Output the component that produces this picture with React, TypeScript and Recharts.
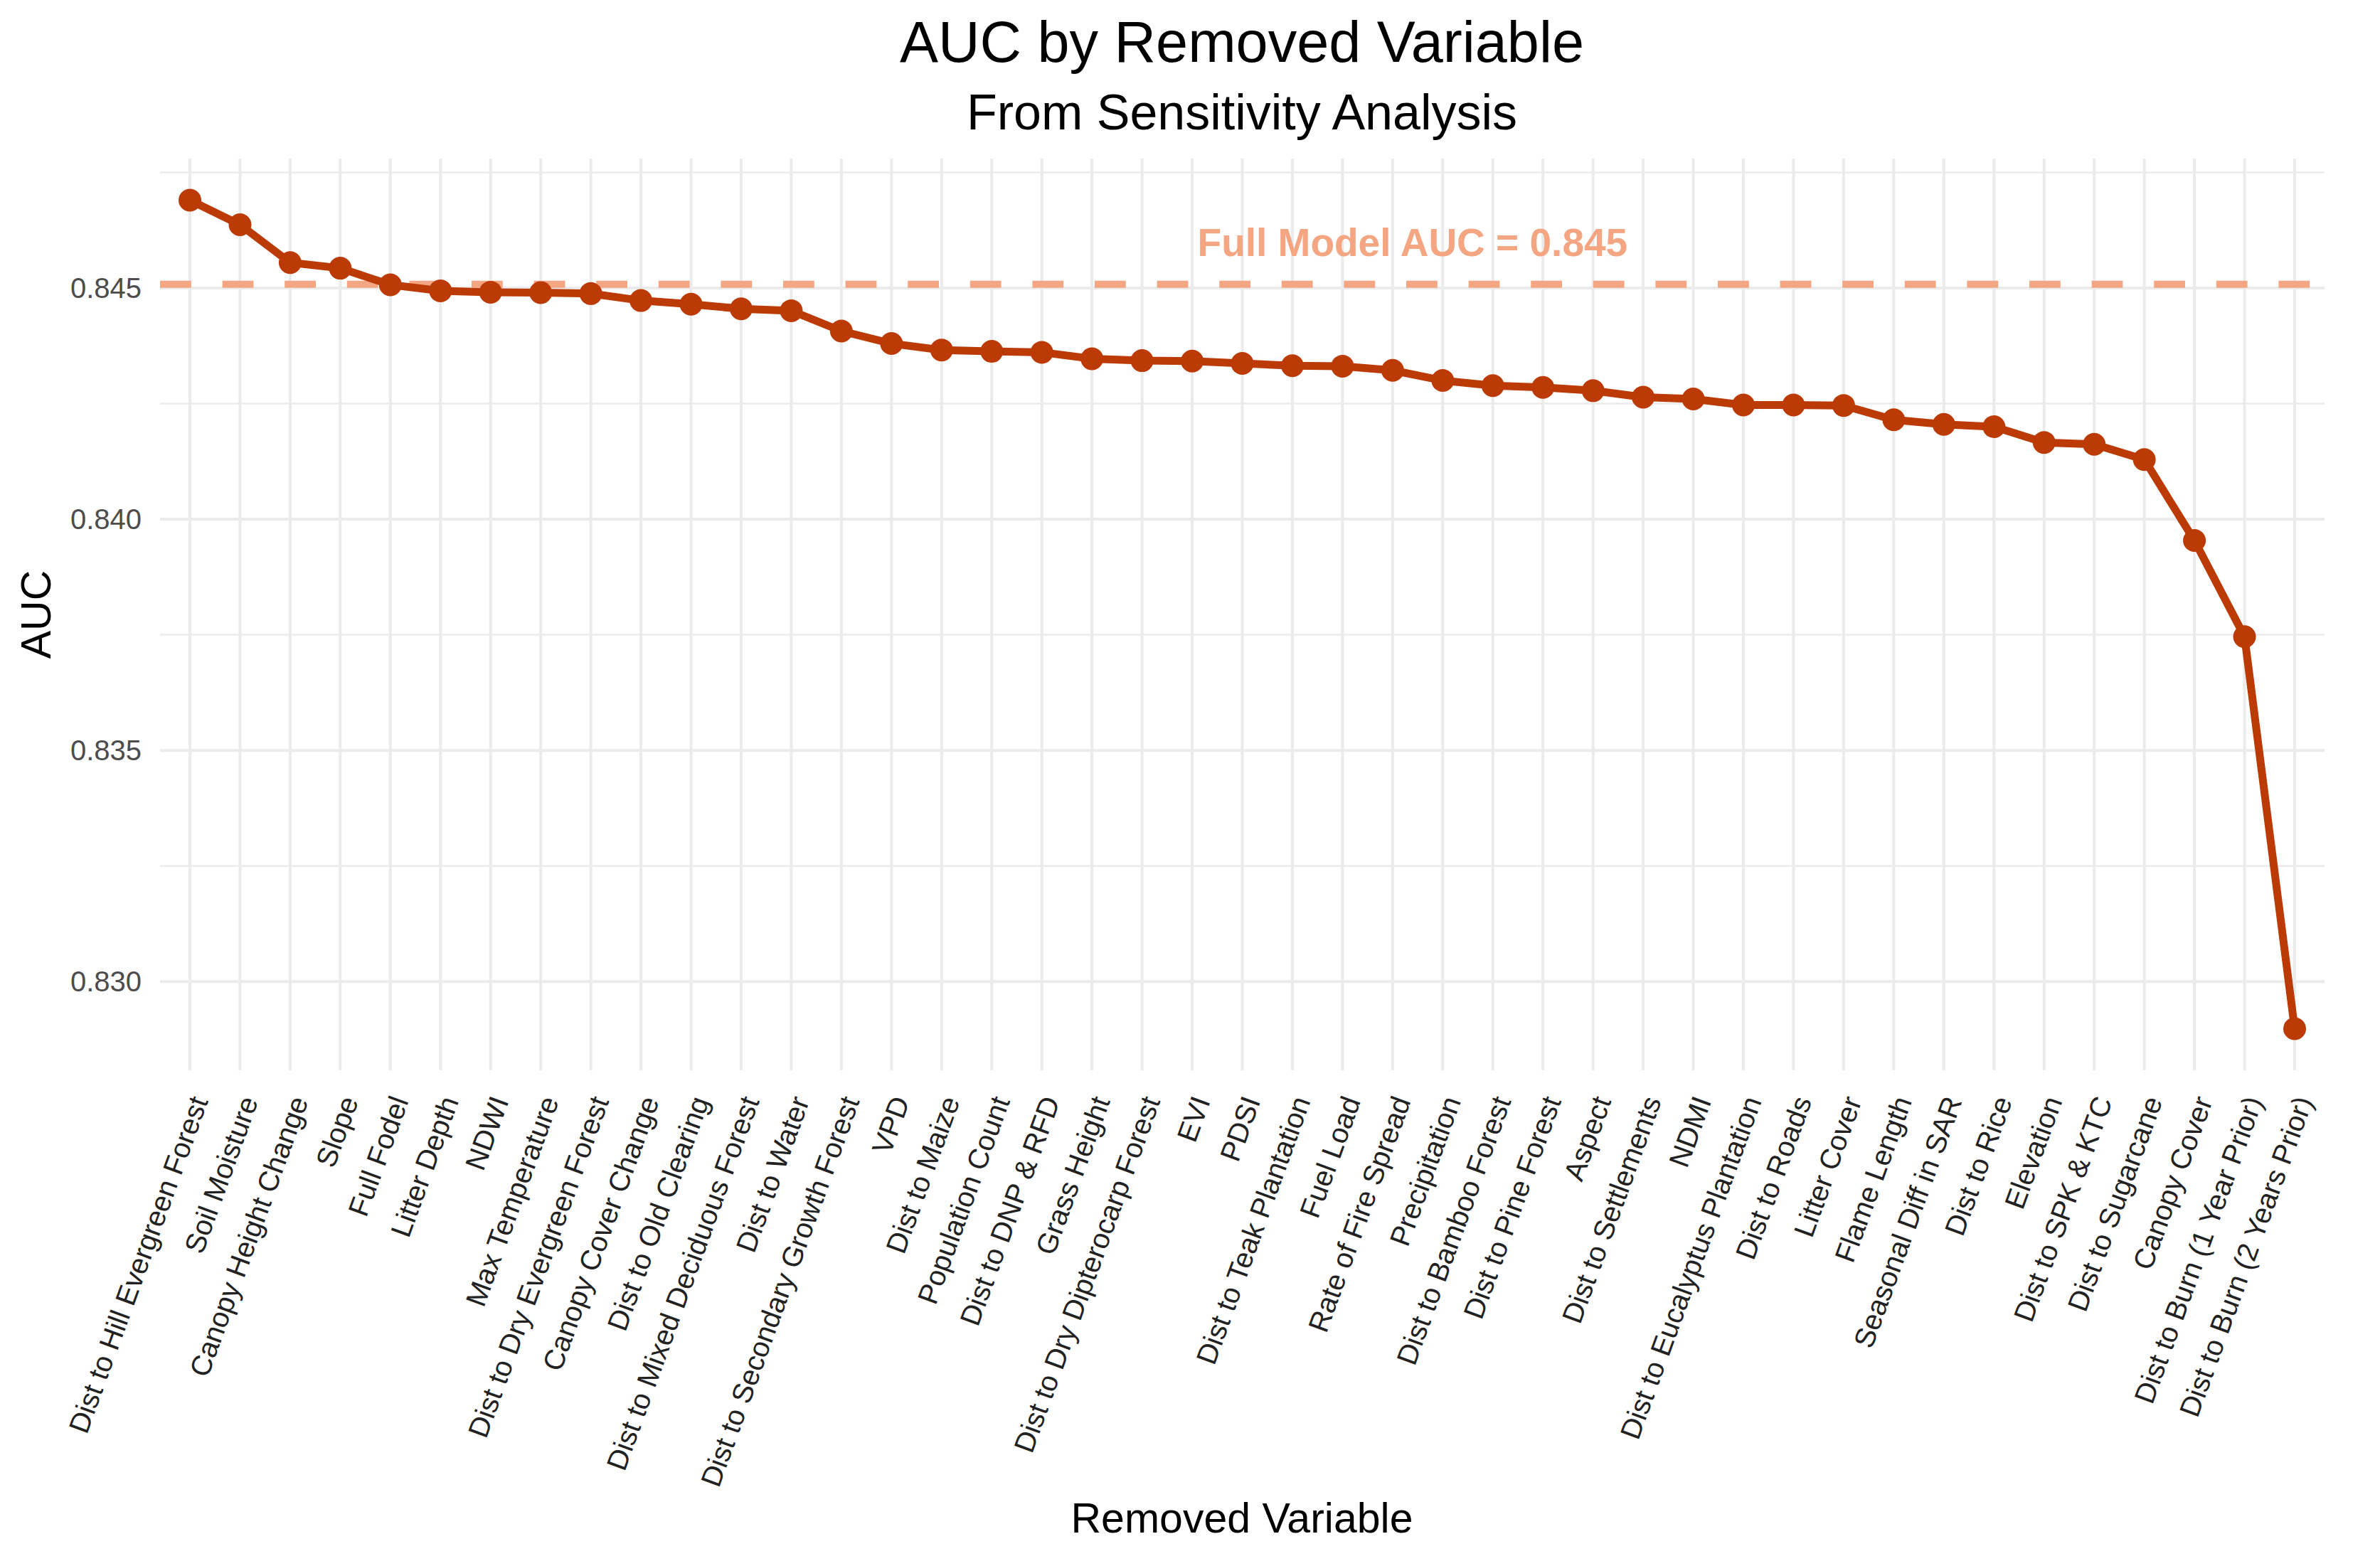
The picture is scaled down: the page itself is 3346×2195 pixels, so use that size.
import React from "react";
import { LineChart, Line, XAxis, YAxis, CartesianGrid, ReferenceLine, ReferenceDot } from "recharts";

// removed variable, ordered as on the x axis
const variables = [
  "Dist to Hill Evergreen Forest",
  "Soil Moisture",
  "Canopy Height Change",
  "Slope",
  "Full Fodel",
  "Litter Depth",
  "NDWI",
  "Max Temperature",
  "Dist to Dry Evergreen Forest",
  "Canopy Cover Change",
  "Dist to Old Clearing",
  "Dist to Mixed Deciduous Forest",
  "Dist to Water",
  "Dist to Secondary Growth Forest",
  "VPD",
  "Dist to Maize",
  "Population Count",
  "Dist to DNP & RFD",
  "Grass Height",
  "Dist to Dry Dipterocarp Forest",
  "EVI",
  "PDSI",
  "Dist to Teak Plantation",
  "Fuel Load",
  "Rate of Fire Spread",
  "Precipitation",
  "Dist to Bamboo Forest",
  "Dist to Pine Forest",
  "Aspect",
  "Dist to Settlements",
  "NDMI",
  "Dist to Eucalyptus Plantation",
  "Dist to Roads",
  "Litter Cover",
  "Flame Length",
  "Seasonal Diff in SAR",
  "Dist to Rice",
  "Elevation",
  "Dist to SPK & KTC",
  "Dist to Sugarcane",
  "Canopy Cover",
  "Dist to Burn (1 Year Prior)",
  "Dist to Burn (2 Years Prior)",
];

// AUC after removing each variable
const aucValues = [
  0.8469, 0.84637, 0.84555, 0.84543, 0.84507, 0.84494, 0.84491, 0.8449,
  0.84488, 0.84473, 0.84465, 0.84455, 0.84451, 0.84407, 0.8438, 0.84366,
  0.84363, 0.84361, 0.84347, 0.84343, 0.84342, 0.84337, 0.84332, 0.84331,
  0.84322, 0.843, 0.84289, 0.84285, 0.84278, 0.84264, 0.8426, 0.84247,
  0.84247, 0.84246, 0.84215, 0.84205, 0.842, 0.84166, 0.84162, 0.84129,
  0.83954, 0.83746, 0.82898,
];

const yTicks = [0.83, 0.835, 0.84, 0.845];
const yMinorLines = [0.8325, 0.8375, 0.8425, 0.8475];
const yDomain = [0.82808, 0.8478];

const fullModelAuc = 0.84508;
const noteText = "Full Model AUC = 0.845";
const noteAt = { variable: "Rate of Fire Spread", auc: 0.846 };

const title = "AUC by Removed Variable";
const subtitle = "From Sensitivity Analysis";
const xTitle = "Removed Variable";
const yTitle = "AUC";

const data = variables.map((v, i) => ({ variable: v, auc: aucValues[i] }));

const FONT = "'Liberation Sans', Arial, Helvetica, sans-serif";
const LINE_COLOR = "#BB3A05";
const REF_COLOR = "#F4A582";
const GRID = "#EBEBEB";

const W = 3346;
const H = 2195;

function XTick(props: any) {
  const { x, y, payload } = props;
  return (
    <text
      transform={`translate(${x + 26},${y + 43}) rotate(-70)`}
      textAnchor="end"
      fontSize={40}
      fill="#222222"
      fontFamily={FONT}
    >
      {payload.value}
    </text>
  );
}

function NoteLabel(props: any) {
  const vb = props.viewBox || {};
  const cx = (vb.x || 0) + (vb.width || 0) / 2;
  const cy = (vb.y || 0) + (vb.height || 0) / 2;
  return (
    <text x={cx + 28} y={cy + 20} textAnchor="middle" fontSize={55} fontWeight="bold" fill={REF_COLOR} fontFamily={FONT}>
      {noteText}
    </text>
  );
}

export default function App() {
  return (
    <div style={{ position: "absolute", left: 0, top: 0, width: W, height: H, background: "#ffffff" }}>
      <LineChart width={W} height={H} data={data} margin={{ top: 223, right: 78, bottom: 0, left: 0 }}>
        <CartesianGrid stroke={GRID} strokeWidth={4} horizontalValues={yTicks} verticalValues={variables} />
        <CartesianGrid stroke={GRID} strokeWidth={2.5} vertical={false} horizontalValues={yMinorLines} />
        <XAxis
          dataKey="variable"
          interval={0}
          tick={<XTick />}
          tickLine={false}
          axisLine={false}
          tickSize={0}
          tickMargin={0}
          height={690}
          padding={{ left: 42, right: 42 }}
        />
        <YAxis
          type="number"
          domain={yDomain}
          ticks={yTicks}
          tickFormatter={(v: number) => v.toFixed(3)}
          tickLine={false}
          axisLine={false}
          tickSize={0}
          tickMargin={26}
          width={225}
          tick={{ fontSize: 40, fill: "#4D4D4D", fontFamily: FONT }}
        />
        <ReferenceLine y={fullModelAuc} stroke={REF_COLOR} strokeWidth={10} strokeDasharray="43.8 43.8" />
        <Line
          type="linear"
          dataKey="auc"
          stroke={LINE_COLOR}
          strokeWidth={11}
          dot={{ r: 16, fill: LINE_COLOR, stroke: LINE_COLOR, strokeWidth: 0 }}
          activeDot={false}
          isAnimationActive={false}
        />
        <ReferenceDot x={noteAt.variable} y={noteAt.auc} r={0} fill="none" stroke="none" label={NoteLabel} />
      </LineChart>
      <svg width={W} height={H} style={{ position: "absolute", left: 0, top: 0, pointerEvents: "none" }}>
        <text x={1746} y={87} textAnchor="middle" fontSize={81} fill="#000000" fontFamily={FONT}>
          {title}
        </text>
        <text x={1746} y={182} textAnchor="middle" fontSize={70} fill="#000000" fontFamily={FONT}>
          {subtitle}
        </text>
        <text x={1746} y={2155} textAnchor="middle" fontSize={59} fill="#000000" fontFamily={FONT}>
          {xTitle}
        </text>
        <text x={71} y={864} textAnchor="middle" fontSize={59} fill="#000000" fontFamily={FONT} transform="rotate(-90, 71, 864)">
          {yTitle}
        </text>
      </svg>
    </div>
  );
}
